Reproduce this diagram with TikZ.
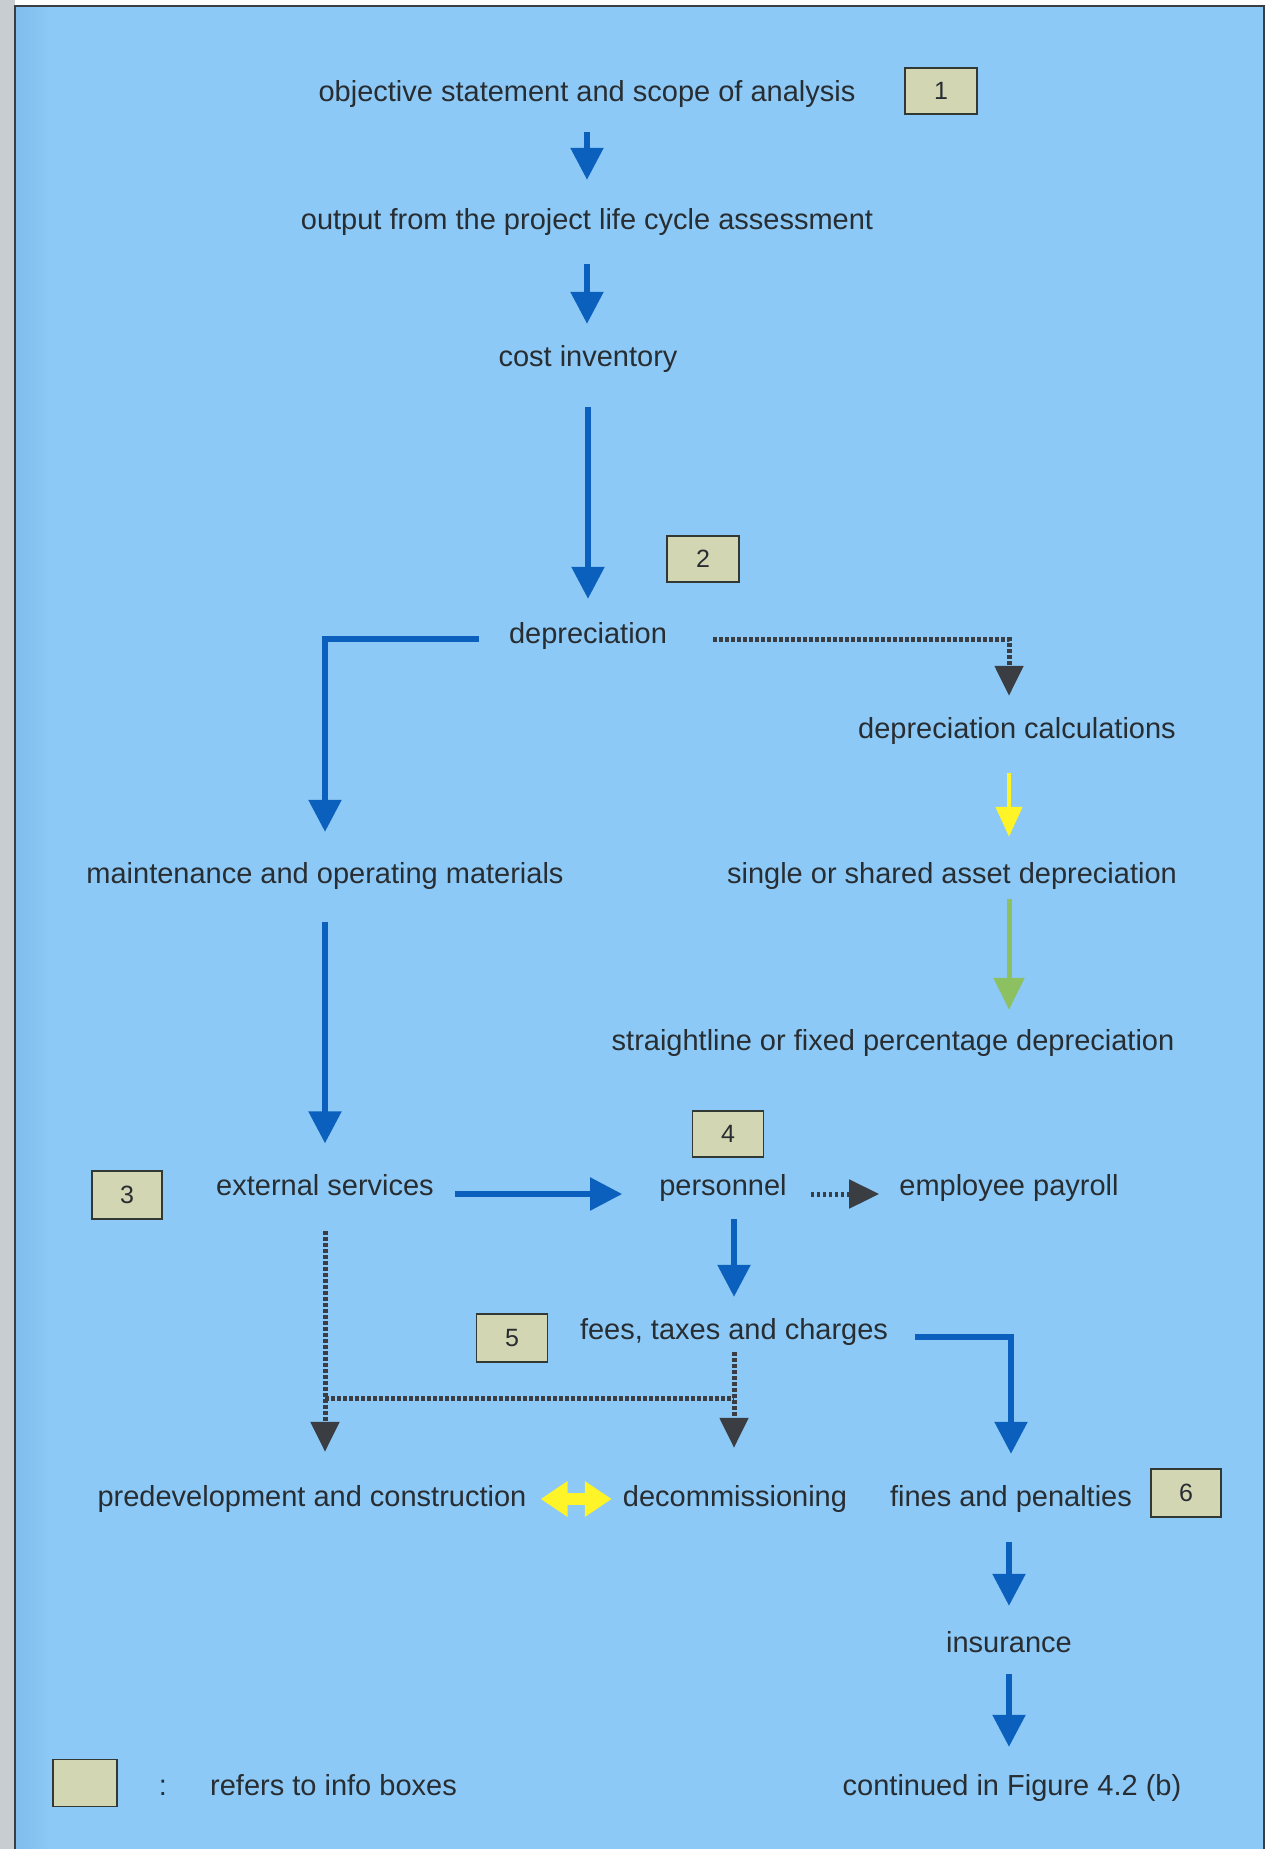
\documentclass[tikz,border=0pt]{standalone}
\usepackage{fontspec}
\setmainfont{Liberation Sans}
\usetikzlibrary{arrows.meta,calc}

\definecolor{panel}{RGB}{140,201,246}
\definecolor{panelshade}{RGB}{128,188,236}
\definecolor{gutter}{RGB}{200,205,210}
\definecolor{frameline}{RGB}{55,62,70}
\definecolor{txt}{RGB}{40,45,50}
\definecolor{flow}{RGB}{10,96,188}
\definecolor{dots}{RGB}{58,62,66}
\definecolor{hilite}{RGB}{255,244,40}
\definecolor{leaf}{RGB}{140,192,96}
\definecolor{boxfill}{RGB}{211,214,178}
\definecolor{boxline}{RGB}{50,56,52}

\begin{document}
\begin{tikzpicture}[x=1pt,y=-1pt,
  lbl/.style={font=\fontsize{29}{34}\selectfont, text=txt, inner sep=0pt,
              text height=21pt, text depth=6pt},
  info/.style={draw=boxline, line width=1.8pt, fill=boxfill,
               minimum width=72pt, minimum height=46pt, inner sep=0pt,
               font=\fontsize{25}{30}\selectfont, text=txt},
  barrow/.style={draw=flow, line width=5.5pt,
                 -{Triangle[width=32pt,length=32pt]}},
  darrow/.style={draw=dots, line width=5pt, dash pattern=on 3.5pt off 2.5pt,
                 -{Triangle[width=28pt,length=30pt]}},
  dline/.style={draw=dots, line width=5pt, dash pattern=on 3.5pt off 2.5pt},
  yarrow/.style={draw=hilite, line width=4.5pt,
                 -{Triangle[width=26pt,length=30pt]}},
  garrow/.style={draw=leaf, line width=5pt,
                 -{Triangle[width=30pt,length=32pt]}},
  twoway/.style={draw=hilite, line width=12pt,
                 {Triangle[width=34pt,length=27pt]}-{Triangle[width=34pt,length=27pt]}}
]
\useasboundingbox (0,0) rectangle (1272,1849);

% page, binding strip and blue panel
\fill[white] (0,0) rectangle (1272,1849);
\fill[gutter] (0,0) rectangle (15,1849);
\fill[panel] (15,6) rectangle (1264,1849);
\shade[left color=panelshade, right color=panel] (15,6) rectangle (50,1849);
\draw[frameline, line width=2pt] (15,1849) -- (15,6) -- (1264,6) -- (1264,1849);

% main chain
\node[lbl] (obj) at (587,94) {objective statement and scope of analysis};
\node[info] (b1) at (941,91) {1};
\node[lbl] (out) at (587,222) {output from the project life cycle assessment};
\node[lbl] (cost) at (588,359) {cost inventory};
\node[info] (b2) at (703,559) {2};
\node[lbl] (dep) at (588,636) {depreciation};

% depreciation branch
\node[lbl] (calc) at (1017,731) {depreciation calculations};
\node[lbl] (single) at (952,876) {single or shared asset depreciation};
\node[lbl] (straight) at (893,1043) {straightline or fixed percentage depreciation};
\coordinate (rcol) at ([xshift=-8pt]calc.south);

% left column and lower part
\node[lbl] (maint) at (325,876) {maintenance and operating materials};
\node[lbl] (ext) at (325,1188) {external services};
\node[info, minimum width=70pt, minimum height=48pt] (b3) at (127,1195) {3};
\node[lbl] (pers) at (723,1188) {personnel};
\node[info, minimum width=71pt] (b4) at (728,1134) {4};
\node[lbl] (pay) at (1009,1188) {employee payroll};
\node[lbl] (fees) at (734,1332) {fees, taxes and charges};
\node[info, minimum width=71pt, minimum height=48pt] (b5) at (512,1338) {5};
\node[lbl] (pred) at (312,1499) {predevelopment and construction};
\node[lbl] (decom) at (735,1499) {decommissioning};
\node[lbl] (fines) at (1011,1499) {fines and penalties};
\node[info, minimum width=70pt, minimum height=48pt] (b6) at (1186,1493) {6};
\node[lbl] (ins) at (1009,1645) {insurance};
\node[lbl] (cont) at (1012,1788) {continued in Figure 4.2 (b)};

% key
\node[info, minimum width=64pt, minimum height=47pt] (key) at (85,1783) {};
\node[lbl] (colon) at (163,1788) {:};
\node[lbl, anchor=west] (keytxt) at (210,1788) {refers to info boxes};

% connectors
\draw[barrow, shorten <=24.5pt, shorten >=28.5pt] (obj.south) -- (out.north);
\draw[barrow, shorten <=28.5pt, shorten >=21.5pt] (out.south) -- (out.south |- cost.north);
\draw[barrow, shorten <=34.5pt, shorten >=23.5pt] (cost.south) -- (cost.south |- dep.north);
\draw[barrow, shorten <=30pt, shorten >=30.5pt] ([yshift=-3pt]dep.west) -| (maint.north);
\draw[darrow, shorten <=46pt, shorten >=21.5pt] ([yshift=-3pt]dep.east) -| (rcol |- calc.north);
\draw[yarrow, shorten <=28.5pt, shorten >=25.5pt] (rcol) -- (rcol |- single.north);
\draw[garrow, shorten <=9.5pt, shorten >=19.5pt] (rcol |- single.south) -- (rcol |- straight.north);
\draw[barrow, shorten <=32pt, shorten >=31pt] (maint.south) -- (ext.north);
\draw[barrow, shorten <=21pt, shorten >=37pt] ([yshift=-6pt]ext.east) -- ([yshift=-6pt]pers.west);
\draw[darrow, shorten <=24pt, shorten >=20pt] ([yshift=-6pt]pers.east) -- ([yshift=-6pt]pay.west);
\draw[barrow, shorten <=17.5pt, shorten >=21.5pt] (pers.south -| fees.north) -- (fees.north);
\draw[barrow, shorten <=27pt, shorten >=31.5pt] ([yshift=-5pt]fees.east) -| (fines.north);
\draw[darrow, shorten <=29.5pt, shorten >=33.5pt] (ext.south) -- (ext.south |- pred.north);
\draw[darrow, shorten <=6.5pt, shorten >=37.5pt] (fees.south) -- (fees.south |- decom.north);
\coordinate (jl) at (ext.south |- 0,1398);
\coordinate (jr) at (fees.south |- 0,1398);
\draw[dline] (jl) -- (jr);
\draw[twoway, shorten <=14pt, shorten >=11pt] (pred.east) -- (decom.west);
\draw[barrow, shorten <=29.5pt, shorten >=25.5pt] (ins.north |- fines.south) -- (ins.north);
\draw[barrow, shorten <=15.5pt, shorten >=27.5pt] (ins.south) -- (ins.south |- cont.north);
\end{tikzpicture}
\end{document}
